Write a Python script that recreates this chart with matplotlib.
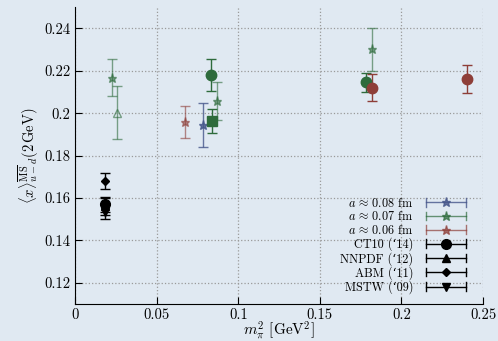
import matplotlib
matplotlib.use('Agg')
import matplotlib.pyplot as plt
from matplotlib.lines import Line2D
from matplotlib.legend_handler import HandlerBase

plt.rcParams['font.family'] = ['cmr10', 'DejaVu Serif']
plt.rcParams['mathtext.fontset'] = 'cm'
plt.rcParams['axes.formatter.use_mathtext'] = True
plt.rcParams['axes.unicode_minus'] = False

bg = '#e0e9f2'
blue = '#45568a'
green = '#2e6b3c'
red = '#8e3e38'

# a ~ 0.08 fm (blue stars)
b_x = [0.0782]
b_y = [0.1943]
b_e = [0.0103]

# a ~ 0.07 fm (green stars)
g_x = [0.0225, 0.0870, 0.1820]
g_y = [0.2167, 0.2056, 0.2301]
g_e = [0.0087, 0.0089, 0.0100]

# green open triangle
gt_x = [0.0257]
gt_y = [0.2003]
gt_e = [0.0124]

# green filled circles
gc_x = [0.0835, 0.1783]
gc_y = [0.2179, 0.2146]
gc_e = [0.0075, 0.0044]

# green square
gs_x = [0.0839]
gs_y = [0.1962]
gs_e = [0.0057]

# a ~ 0.06 fm (red stars)
r_x = [0.0674]
r_y = [0.1959]
r_e = [0.0077]

# red filled circles
rc_x = [0.1818, 0.2400]
rc_y = [0.2120, 0.2159]
rc_e = [0.0064, 0.0066]

# phenomenology
pdf_names = ['CT10 (\u201814)', 'NNPDF (\u201812)', 'ABM (\u201811)', 'MSTW (\u201809)']
pdf_markers = ['o', '^', 'D', 'v']
pdf_sizes = [7, 6, 4.5, 6]
pdf_x = [0.0184, 0.0184, 0.0184, 0.0184]
pdf_y = [0.1570, 0.1560, 0.1679, 0.1534]
pdf_e = [0.0035, 0.0040, 0.0038, 0.0034]


class HandlerHErr(HandlerBase):
    # horizontal errorbar with caps and the marker in the middle
    def create_artists(self, legend, orig_handle, xdescent, ydescent,
                       width, height, fontsize, trans):
        c = orig_handle.get_color()
        a = orig_handle.get_alpha()
        x0 = -xdescent
        x1 = -xdescent + width
        y = (height - ydescent) / 2
        cap = height * 0.45
        arts = [Line2D([x0, x1], [y, y], color=c, lw=1.0, alpha=a),
                Line2D([x0, x0], [y - cap, y + cap], color=c, lw=1.0, alpha=a),
                Line2D([x1, x1], [y - cap, y + cap], color=c, lw=1.0, alpha=a),
                Line2D([(x0 + x1) / 2], [y], color=c, marker=orig_handle.get_marker(),
                       ms=orig_handle.get_markersize(), linestyle='none', alpha=a)]
        for art in arts:
            art.set_transform(trans)
        return arts


fig = plt.figure(figsize=(4.98, 3.41), dpi=100, facecolor=bg)
ax = fig.add_axes([0.151, 0.1085, 0.819, 0.8705], facecolor=bg)

kw = dict(capsize=3.5, elinewidth=1.0, capthick=1.0, linestyle='none')

ax.errorbar(b_x, b_y, yerr=b_e, color=blue, marker='*', ms=6.5, alpha=0.8, **kw)
ax.errorbar(g_x, g_y, yerr=g_e, color=green, marker='*', ms=6.5, alpha=0.6, **kw)
ax.errorbar(gt_x, gt_y, yerr=gt_e, color=green, marker='^', ms=5.5, mfc='none', alpha=0.6, **kw)
ax.errorbar(gc_x, gc_y, yerr=gc_e, color=green, marker='o', ms=7.5, **kw)
ax.errorbar(gs_x, gs_y, yerr=gs_e, color=green, marker='s', ms=7, **kw)
ax.errorbar(r_x, r_y, yerr=r_e, color=red, marker='*', ms=6.5, alpha=0.6, **kw)
ax.errorbar(rc_x, rc_y, yerr=rc_e, color=red, marker='o', ms=7.5, **kw)

for m, s, x, y, e in zip(pdf_markers, pdf_sizes, pdf_x, pdf_y, pdf_e):
    ax.errorbar([x], [y], yerr=[e], color='black', marker=m, ms=s, **kw)

handles = [Line2D([], [], color=blue, marker='*', ms=6.5, alpha=0.8),
           Line2D([], [], color=green, marker='*', ms=6.5, alpha=0.7),
           Line2D([], [], color=red, marker='*', ms=6.5, alpha=0.7)]
labels = [r'$a \,\approx\, 0.08$ fm', r'$a \,\approx\, 0.07$ fm', r'$a \,\approx\, 0.06$ fm']
for name, m, s in zip(pdf_names, pdf_markers, pdf_sizes):
    handles.append(Line2D([], [], color='black', marker=m, ms=s))
    labels.append(name)

ax.set_xlim(0, 0.25)
ax.set_ylim(0.11, 0.25)
ax.set_xticks([0, 0.05, 0.1, 0.15, 0.2, 0.25])
ax.set_xticklabels(['0', '0.05', '0.1', '0.15', '0.2', '0.25'])
ax.set_yticks([0.12, 0.14, 0.16, 0.18, 0.2, 0.22, 0.24])
ax.set_yticklabels(['0.12', '0.14', '0.16', '0.18', '0.2', '0.22', '0.24'])
ax.grid(True, linestyle=':', color='#9a9a9a', linewidth=0.9)
ax.set_axisbelow(True)
for s in ['top', 'right']:
    ax.spines[s].set_visible(False)
ax.tick_params(direction='in', length=5, labelsize=10.5)
ax.tick_params(axis='x', pad=3)

ax.set_xlabel(r'$m_\pi^2$ [GeV$^2$]', fontsize=11, labelpad=-2)
ax.set_ylabel(r'$\langle x\rangle^{\overline{\rm MS}}_{u-d}(2\,{\rm GeV})$', fontsize=10.5, labelpad=2)

ax.legend(handles, labels, handler_map={Line2D: HandlerHErr()}, loc='lower right',
          markerfirst=False, frameon=False, fontsize=8.8, handlelength=3.3,
          handleheight=0.8, labelspacing=0.05, handletextpad=1.0,
          bbox_to_anchor=(0.985, -0.005))

fig.savefig('out.png', dpi=100, facecolor=bg)
